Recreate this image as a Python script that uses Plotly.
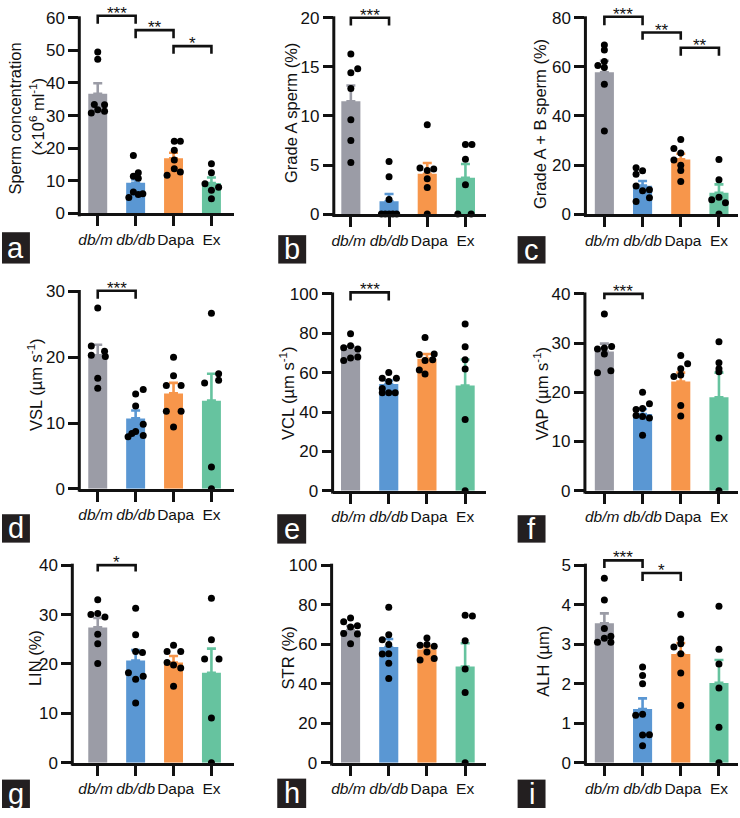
import plotly.graph_objects as go

W, H = 740, 818

# ---------------- data ----------------
groups = ["db/m", "db/db", "Dapa", "Ex"]
group_ticktext = ["<i>db/m</i>&nbsp;", "<i>db/db</i>", "&nbsp;Dapa", "Ex"]

# a: sperm concentration
a_mean = [36.7, 9.4, 16.9, 9.3]
a_sem = [3.2, 1.0, 1.7, 1.7]
a_dbm = [49.5, 47.3, 33.4, 33.3, 31.8, 31.3, 30.8]
a_dbdb = [17.8, 12.5, 11.4, 10.8, 6.6, 6.0, 5.8, 4.9]
a_dapa = [22.1, 22.1, 19.4, 16.4, 13.7, 11.7, 12.7]
a_ex = [15.2, 12.5, 9.1, 8.0, 7.1, 4.5]
a_ticks = [0, 10, 20, 30, 40, 50, 60]

# b: grade A sperm
b_mean = [11.5, 1.3, 4.1, 3.7]
b_sem = [1.6, 0.75, 1.1, 1.4]
b_dbm = [16.3, 14.8, 14.4, 12.8, 9.6, 7.5, 5.25]
b_dbdb = [5.35, 3.8, 1.5, 0, 0, 0, 0, 0]
b_dapa = [9.1, 4.7, 4.6, 4.45, 3.6, 2.7, 0]
b_ex = [7.1, 7.1, 5.6, 3.0, 0, 0]
b_ticks = [0, 5, 10, 15, 20]

# c: grade A + B sperm
c_mean = [57.8, 11.6, 22.3, 8.7]
c_sem = [4.7, 1.9, 2.3, 3.4]
c_dbm = [68.9, 66.9, 62.2, 60.6, 59.7, 52.9, 33.9]
c_dbdb = [18.9, 17.7, 16.2, 11.5, 9.9, 9.5, 6.7, 5.1]
c_dapa = [30.4, 26.7, 24.9, 22.0, 19.9, 17.8, 13.3]
c_ex = [22.3, 14.0, 6.9, 5.8, 4.6, 0]
c_ticks = [0, 20, 40, 60, 80]

# d: VSL
d_mean = [20.3, 10.7, 14.5, 13.4]
d_sem = [1.6, 1.2, 1.6, 4.1]
d_dbm = [27.5, 21.7, 20.9, 20.3, 20.1, 16.8, 15.3]
d_dbdb = [15.1, 14.4, 12.6, 9.8, 8.7, 8.4, 8.1, 7.9]
d_dapa = [20.0, 17.2, 15.7, 15.7, 11.8, 11.8, 9.4]
d_ex = [26.7, 17.5, 16.5, 16.1, 3.3, 0]
d_ticks = [0, 10, 20, 30]

# e: VCL
e_mean = [71.5, 54.2, 67.1, 53.5]
e_sem = [1.8, 1.8, 2.4, 13.2]
e_dbm = [79.7, 73.6, 72.7, 72.0, 67.9, 67.4, 66.2]
e_dbdb = [60.1, 57.2, 57.2, 55.5, 52.0, 49.8, 49.8, 49.8]
e_dapa = [77.8, 69.5, 69.2, 66.5, 66.2, 61.3, 59.3]
e_ex = [84.7, 73.1, 66.5, 61.9, 36.2, 0]
e_ticks = [0, 20, 40, 60, 80, 100]

# f: VAP
f_mean = [28.3, 15.6, 22.2, 19.0]
f_sem = [1.6, 1.0, 1.8, 5.0]
f_dbm = [35.9, 29.3, 29.0, 28.8, 27.8, 24.4, 24.0]
f_dbdb = [20.0, 17.7, 16.7, 16.5, 15.3, 15.1, 14.8, 11.3]
f_dapa = [27.5, 25.8, 24.8, 23.5, 23.2, 17.3, 15.2]
f_ex = [30.3, 26.0, 24.8, 24.2, 10.7, 0]
f_ticks = [0, 10, 20, 30, 40]

# g: LIN
g_mean = [27.4, 20.7, 20.3, 18.2]
g_sem = [1.9, 2.1, 1.3, 4.9]
g_dbm = [33.0, 30.2, 30.0, 29.5, 26.0, 24.1, 20.1]
g_dbdb = [31.3, 25.9, 22.5, 22.3, 18.2, 17.5, 16.9, 12.1]
g_dapa = [23.8, 22.5, 22.5, 20.3, 19.8, 19.2, 15.5]
g_ex = [33.3, 24.9, 21.0, 21.0, 9.05, 0]
g_ticks = [0, 10, 20, 30, 40]

# h: STR
h_mean = [67.2, 58.6, 57.3, 48.7]
h_sem = [2.0, 4.0, 1.6, 11.8]
h_dbm = [73.3, 71.3, 69.3, 68.7, 65.4, 65.1, 60.2]
h_dbdb = [78.7, 64.8, 62.3, 59.8, 55.2, 55.0, 50.3, 42.6]
h_dapa = [63.1, 59.8, 59.5, 59.0, 56.1, 52.8, 52.0]
h_ex = [74.6, 74.3, 61.8, 47.5, 35.6, 0]
h_ticks = [0, 20, 40, 60, 80, 100]

# i: ALH
i_mean = [3.53, 1.36, 2.75, 2.02]
i_sem = [0.25, 0.27, 0.28, 0.58]
i_dbm = [4.67, 4.12, 3.40, 3.20, 3.15, 3.05, 3.05]
i_dbdb = [2.42, 2.21, 2.0, 1.23, 1.2, 0.71, 0.70, 0.43]
i_dapa = [3.75, 3.13, 3.01, 2.93, 2.76, 2.27, 1.45]
i_ex = [3.96, 2.87, 2.5, 1.89, 0.9, 0]
i_ticks = [0, 1, 2, 3, 4, 5]

# significance brackets: (group1, group2, top, drop, label)
a_sig = [(0, 1, 60.6, 58.2, "***"), (1, 2, 56.2, 53.7, "**"), (2, 3, 51.3, 49.0, "*")]
b_sig = [(0, 1, 20.0, 19.2, "***")]
c_sig = [(0, 1, 80.4, 77.0, "***"), (1, 2, 74.0, 71.0, "**"), (2, 3, 67.8, 64.5, "**")]
d_sig = [(0, 1, 30.1, 28.9, "***")]
e_sig = [(0, 1, 100.8, 96.7, "***")]
f_sig = [(0, 1, 40.0, 38.9, "***")]
g_sig = [(0, 1, 40.0, 38.7, "*")]
h_sig = []
i_sig = [(0, 1, 5.12, 4.93, "***"), (1, 2, 4.80, 4.60, "*")]

titles = {
    "a": ["Sperm concentration", "(×10<sup>6</sup> ml<sup>-1</sup>)"],
    "b": ["Grade A sperm (%)"],
    "c": ["Grade A + B sperm (%)"],
    "d": ["VSL (µm s<sup>-1</sup>)"],
    "e": ["VCL (µm s<sup>-1</sup>)"],
    "f": ["VAP (µm s<sup>-1</sup>)"],
    "g": ["LIN (%)"],
    "h": ["STR (%)"],
    "i": ["ALH (µm)"],
}

# ---------------- dot jitter (horizontal spread, category units) ----------------
JIT = {
    "a": [[0, 0, -0.09, 0.18, 0, 0.18, -0.17],
          [-0.06, 0.07, -0.06, 0.07, -0.06, 0.19, 0.07, -0.18],
          [0.02, 0.18, 0.02, 0.02, 0.02, -0.17, 0.18],
          [0, 0, -0.17, 0.19, 0, 0]],
    "b": [[0, 0.18, 0, 0, 0, 0, 0],
          [0, 0, 0, -0.2, -0.1, 0, 0.1, 0.2],
          [0, -0.19, 0.17, 0, 0, 0, 0],
          [0, 0.17, 0, 0, -0.2, 0.15]],
    "c": [[0, 0, 0, -0.17, 0, 0, 0],
          [-0.17, 0, -0.17, -0.17, 0.18, 0, 0.18, -0.17],
          [0, -0.18, 0, -0.18, 0, 0, 0],
          [0, 0, 0, -0.19, 0.17, 0]],
    "d": [[0, -0.17, 0.18, -0.17, 0.2, 0, 0],
          [0.2, 0, 0, 0.2, 0, -0.1, 0.2, -0.2],
          [0, 0, -0.19, 0.2, -0.19, 0.2, 0],
          [0, 0.19, 0.19, -0.18, 0, 0]],
    "e": [[0, 0, -0.18, 0.19, 0.19, 0, -0.18],
          [0, -0.17, 0.2, 0, -0.17, -0.17, 0, 0.17],
          [-0.05, 0.19, -0.2, 0.15, -0.05, -0.2, -0.05],
          [0, 0, 0, 0, 0, 0]],
    "f": [[0, 0.19, 0, -0.18, 0, 0.17, -0.18],
          [0, 0.18, 0, -0.17, -0.17, 0, 0.18, 0],
          [0, 0.18, 0, 0, -0.18, 0, 0],
          [0, 0, 0, 0, 0, 0]],
    "g": [[0, 0, -0.18, 0.19, 0, 0, 0],
          [0, 0, 0, 0.18, -0.19, 0.2, 0, 0],
          [0, -0.17, 0.19, -0.17, 0, 0.19, 0],
          [0, 0, -0.18, 0.2, 0, 0]],
    "h": [[0, -0.18, 0.18, 0, -0.18, 0.18, 0],
          [0, 0, -0.17, 0, 0, -0.17, 0, 0],
          [0, 0, -0.18, 0.19, 0, 0.19, -0.18],
          [0, 0.19, 0, 0, 0, 0]],
    "i": [[0, 0, 0, 0.17, 0, -0.18, 0.17],
          [0, 0, 0, 0, -0.18, 0.18, 0, 0],
          [0, 0, 0, -0.18, 0, 0, 0],
          [0, 0, 0, 0, 0, 0]],
}

# ---------------- geometry (pixels) ----------------
GEOM = {
    "a": dict(xl=77.5, c0=96.0, sp=38.0, xr=233, z=212.3, t=11.0),
    "b": dict(xl=332.7, c0=349.8, sp=38.3, xr=485, z=213.0, t=11.0),
    "c": dict(xl=585.0, c0=604.0, sp=38.3, xr=738, z=213.0, t=11.0),
    "d": dict(xl=77.5, c0=96.0, sp=38.0, xr=233, z=493.5, t=290.5),
    "e": dict(xl=331.5, c0=349.5, sp=38.3, xr=485, z=495.5, t=293.0),
    "f": dict(xl=584.5, c0=604.0, sp=38.3, xr=738, z=495.5, t=293.0),
    "g": dict(xl=70.5, c0=96.0, sp=38.0, xr=233, z=773.3, t=570.0),
    "h": dict(xl=330.5, c0=349.5, sp=38.3, xr=485, z=773.3, t=570.0),
    "i": dict(xl=585.0, c0=604.0, sp=38.3, xr=738, z=773.3, t=570.0),
}
TITLE_POS = {  # (x center, y center) for each title line
    "a": [(13, 114), (35, 112)],
    "b": [(290, 108)],
    "c": [(539, 120)],
    "d": [(33, 385)],
    "e": [(286, 395)],
    "f": [(540, 395)],
    "g": [(33, 665)],
    "h": [(287, 665)],
    "i": [(543, 668)],
}
LABEL_BOX = {
    "a": (0, 230, 28, 32), "b": (277, 233, 28, 29), "c": (517, 234, 28, 28),
    "d": (0, 518, 28, 29), "e": (276, 518, 29, 30), "f": (517, 519, 28, 28),
    "g": (0, 789, 28, 29), "h": (276, 788, 29, 30), "i": (517, 789, 28, 29),
}

bar_colors = ["#9b9ca6", "#5a97d3", "#f7964b", "#66c39f"]
FONT = "Liberation Sans, Arial, Helvetica, sans-serif"
INK = "#111111"

panels = {
    "a": (a_mean, a_sem, [a_dbm, a_dbdb, a_dapa, a_ex], a_ticks, a_sig),
    "b": (b_mean, b_sem, [b_dbm, b_dbdb, b_dapa, b_ex], b_ticks, b_sig),
    "c": (c_mean, c_sem, [c_dbm, c_dbdb, c_dapa, c_ex], c_ticks, c_sig),
    "d": (d_mean, d_sem, [d_dbm, d_dbdb, d_dapa, d_ex], d_ticks, d_sig),
    "e": (e_mean, e_sem, [e_dbm, e_dbdb, e_dapa, e_ex], e_ticks, e_sig),
    "f": (f_mean, f_sem, [f_dbm, f_dbdb, f_dapa, f_ex], f_ticks, f_sig),
    "g": (g_mean, g_sem, [g_dbm, g_dbdb, g_dapa, g_ex], g_ticks, g_sig),
    "h": (h_mean, h_sem, [h_dbm, h_dbdb, h_dapa, h_ex], h_ticks, h_sig),
    "i": (i_mean, i_sem, [i_dbm, i_dbdb, i_dapa, i_ex], i_ticks, i_sig),
}

fig = go.Figure()
layout_axes = {}
shapes = []
annotations = []

for n, key in enumerate("abcdefghi", start=1):
    mean, sem, dots, ticks, sig = panels[key]
    g = GEOM[key]
    xa = "x" if n == 1 else f"x{n}"
    ya = "y" if n == 1 else f"y{n}"
    top = ticks[-1]
    bottom_px = g["z"] - 1.5
    ppu = (bottom_px - g["t"]) / top
    ext = max([s[2] for s in sig] + [top]) + 2.0 / ppu
    top_px = bottom_px - ext * ppu
    dom_h = bottom_px - top_px

    # bars with upward SEM error bars
    for k in range(4):
        fig.add_trace(go.Bar(
            x=[k], y=[mean[k]], width=0.5,
            marker=dict(color=bar_colors[k], line=dict(width=0)),
            error_y=dict(type="data", symmetric=False, array=[sem[k]], arrayminus=[0],
                         color=bar_colors[k], thickness=2.6, width=4.5),
            xaxis=xa, yaxis=ya, showlegend=False, hoverinfo="skip"))

    # individual points
    xs, ys = [], []
    for k in range(4):
        for v, j in zip(dots[k], JIT[key][k]):
            xs.append(k + j)
            ys.append(v)
    fig.add_trace(go.Scatter(
        x=xs, y=ys, mode="markers", cliponaxis=False,
        marker=dict(color="black", size=7, line=dict(width=0)),
        xaxis=xa, yaxis=ya, showlegend=False, hoverinfo="skip"))

    xname = "xaxis" if n == 1 else f"xaxis{n}"
    yname = "yaxis" if n == 1 else f"yaxis{n}"
    layout_axes[xname] = dict(
        domain=[g["xl"] / W, g["xr"] / W],
        range=[(g["xl"] - g["c0"]) / g["sp"], (g["xr"] - g["c0"]) / g["sp"]],
        tickvals=[0, 1, 2, 3], ticktext=group_ticktext, tickangle=0,
        ticks="outside", ticklen=10, tickwidth=3, tickcolor=INK,
        showline=True, linewidth=3, linecolor=INK,
        showgrid=False, zeroline=False, anchor=ya, fixedrange=True,
        tickfont=dict(family=FONT, size=15.5, color=INK))
    layout_axes[yname] = dict(
        domain=[1 - bottom_px / H, 1 - top_px / H],
        range=[0, ext], tickvals=ticks,
        ticks="outside", ticklen=10, tickwidth=3, tickcolor=INK,
        showline=False, showgrid=False, zeroline=False, anchor=xa, fixedrange=True,
        tickfont=dict(family=FONT, size=17, color=INK))

    # y axis line from 0 to the top tick
    shapes.append(dict(type="line", xref=f"{xa} domain", yref=f"{ya} domain",
                       x0=0, x1=0, y0=-3.0 / dom_h, y1=(top * ppu + 1.5) / dom_h,
                       line=dict(color=INK, width=3), layer="above"))

    # significance brackets
    for (g1, g2, ytop, ydrop, lab) in sig:
        shapes.append(dict(type="path", xref=xa, yref=ya,
                           path=f"M {g1},{ydrop} L {g1},{ytop} L {g2},{ytop} L {g2},{ydrop}",
                           line=dict(color=INK, width=2.6), layer="above"))
        annotations.append(dict(x=(g1 + g2) / 2, y=ytop, xref=xa, yref=ya, text=lab,
                                showarrow=False, yanchor="bottom", xanchor="center", yshift=-9,
                                font=dict(family=FONT, size=17, color=INK)))

    # y-axis titles
    for line, (tx, ty) in zip(titles[key], TITLE_POS[key]):
        annotations.append(dict(x=tx / W, y=1 - ty / H, xref="paper", yref="paper",
                                text=line, showarrow=False, textangle=-90,
                                xanchor="center", yanchor="middle",
                                font=dict(family=FONT, size=16.5, color=INK)))

    # panel label box
    bx, by, bw, bh = LABEL_BOX[key]
    shapes.append(dict(type="rect", xref="paper", yref="paper",
                       x0=bx / W, x1=(bx + bw) / W, y0=1 - (by + bh) / H, y1=1 - by / H,
                       fillcolor="#231f20", line=dict(width=0), layer="above"))
    annotations.append(dict(x=(bx + bw / 2) / W, y=1 - (by + bh / 2) / H,
                            xref="paper", yref="paper", text=key, showarrow=False,
                            xanchor="center", yanchor="middle",
                            font=dict(family=FONT, size=29, color="white")))

fig.update_layout(
    width=W, height=H, margin=dict(l=0, r=0, t=0, b=0),
    paper_bgcolor="white", plot_bgcolor="white",
    barmode="overlay", showlegend=False,
    shapes=shapes, annotations=annotations,
    font=dict(family=FONT, color=INK),
    **layout_axes)

fig.write_html("out.html", config={"displayModeBar": False, "staticPlot": True},
               post_script="document.body.style.margin='0';document.body.style.overflow='hidden';")
